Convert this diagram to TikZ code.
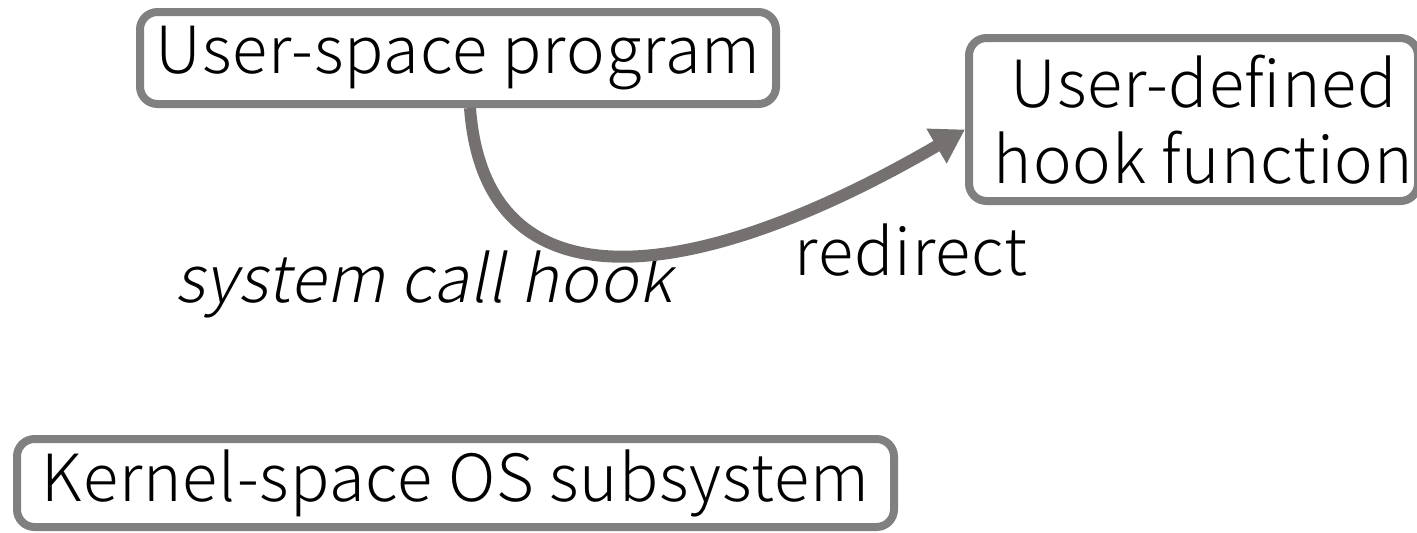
\documentclass[tikz,border=0pt]{standalone}
\usepackage{fontspec}
\IfFontExistsTF{Noto Sans CJK JP Light}
  {\setmainfont{Noto Sans CJK JP Light}[AutoFakeSlant=0.2, LetterSpace=1.5]}
  {\setmainfont{Noto Sans CJK JP}[AutoFakeSlant=0.2, LetterSpace=1.5]}
\usetikzlibrary{positioning,arrows.meta}
\definecolor{boxline}{RGB}{128,128,128}
\definecolor{hookline}{RGB}{118,113,113}

\begin{document}
\begin{tikzpicture}[
    font=\fontsize{37pt}{43pt}\selectfont,
    block/.style={
        rectangle, rounded corners=0.35cm,
        draw=boxline, line width=0.16cm,
        fill=white, align=center,
        inner sep=0pt
    },
    hookflow/.style={
        -{Triangle[length=0.66cm, width=0.76cm]},
        draw=hookline, line width=0.24cm
    },
    label/.style={inner sep=0pt, anchor=base}
]
\useasboundingbox (0,0) rectangle (28.34,-10.64);

% Boxes
\node[block, minimum width=12.72cm, minimum height=1.84cm] at (9.16,-1.16) (prog) {User-space program};
\node[block, minimum width=8.98cm, minimum height=3.26cm] at (23.87,-2.39) (hook)
    {\hspace*{0.4cm}User-defined\\\hspace*{0.4cm}hook function};
\node[block, minimum width=17.54cm, minimum height=1.76cm] at (9.11,-9.66) (kernel) {Kernel-space OS subsystem};

% Labels
\node[label] at (8.48,-6.04) (callhook) {\itshape system call hook};
\node[label] at (18.22,-5.5) (redirect) {redirect};

% Hook arrow
\draw[hookflow] ([xshift=0.24cm]prog.south) .. controls +(0.3,-4.05) and +(-5.5,-3.2) .. ([yshift=-0.2cm]hook.west);

\end{tikzpicture}
\end{document}
